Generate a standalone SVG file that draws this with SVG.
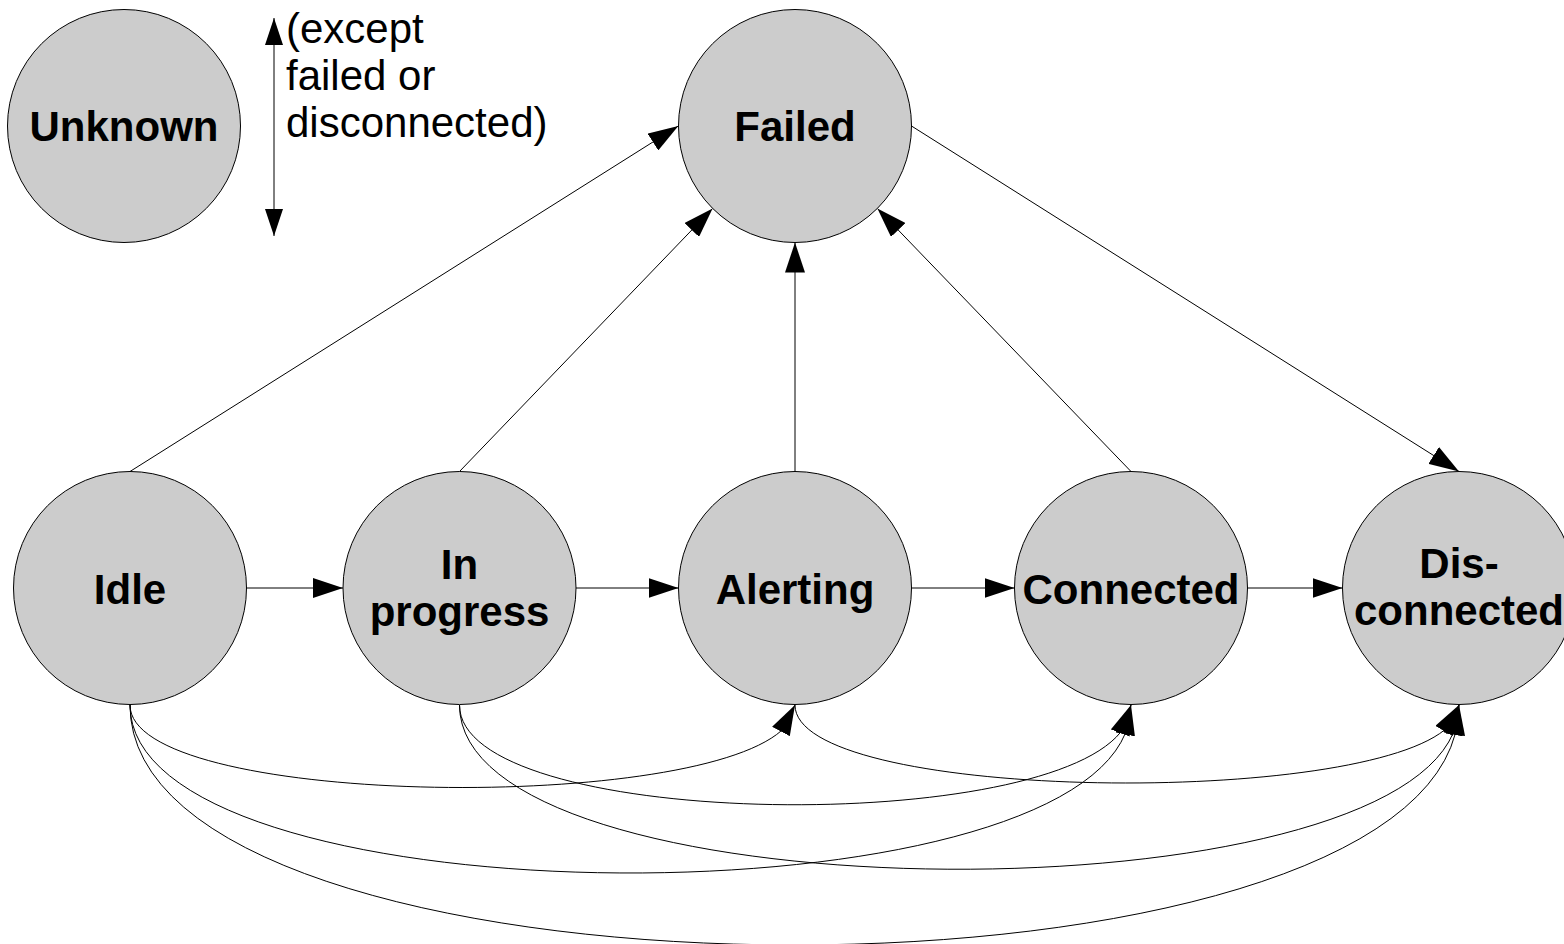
<svg xmlns="http://www.w3.org/2000/svg" width="1564" height="944" viewBox="0 0 1564 944">
  <style>
    .state { fill: #cccccc; stroke: #000000; stroke-width: 1; }
    .label { font-family: "Liberation Sans", Arial, sans-serif; font-weight: bold; font-size: 42px; fill: #000000; text-anchor: middle; }
    .note { font-family: "Liberation Sans", Arial, sans-serif; font-size: 42px; fill: #000000; }
    .edge { fill: none; stroke: #000000; stroke-width: 1; marker-end: url(#arrow); }
  </style>
  <defs>
    <marker id="arrow" markerUnits="userSpaceOnUse" viewBox="0 0 30 20" refX="30" refY="10" markerWidth="30" markerHeight="20" orient="auto">
      <path d="M0,0 L30,10 L0,20 Z" fill="#000000"/>
    </marker>
    <marker id="arrowSmall" markerUnits="userSpaceOnUse" viewBox="0 0 27 18" refX="27" refY="9" markerWidth="27" markerHeight="18" orient="auto-start-reverse">
      <path d="M0,0 L27,9 L0,18 Z" fill="#000000"/>
    </marker>
  </defs>

  <rect width="1564" height="944" fill="#ffffff"/>

  <!-- connectors -->
  <g id="connectors">
    <!-- straight transitions into Failed -->
    <path class="edge" d="M130,471.5 L678.3,126"/>
    <path class="edge" d="M459.5,471.5 L712.6,208.4"/>
    <path class="edge" d="M795,471.5 L795,242.5"/>
    <path class="edge" d="M1131,471.5 L877.4,208.4"/>
    <path class="edge" d="M911.5,126 L1459,471.5"/>
    <!-- main sequence -->
    <path class="edge" d="M246.5,588 L343,588"/>
    <path class="edge" d="M576,588 L678.5,588"/>
    <path class="edge" d="M911.5,588 L1014.5,588"/>
    <path class="edge" d="M1247.5,588 L1342.5,588"/>
    <!-- skip-ahead transitions underneath -->
    <path class="edge" d="M130,705 C130,805.65 686.76,814.21 781.4,730.67 L795,705"/>
    <path class="edge" d="M130,705 C130,919.14 1044.85,928.57 1125.36,733.27 L1131,705"/>
    <path class="edge" d="M130,705 C130,1015.08 1377.88,1024.69 1455.25,733.84 L1459,705"/>
    <path class="edge" d="M459.5,705 C459.5,828.16 1035.37,837.27 1120.52,732.34 L1131,705"/>
    <path class="edge" d="M459.5,705 C459.5,914.15 1371.11,923.56 1453.11,733.23 L1459,705"/>
    <path class="edge" d="M795,705 C795,799.85 1347.28,808.19 1444.48,730.04 L1459,705"/>
    <!-- two-way arrow beside Unknown -->
    <path d="M274,18 L274,236" fill="none" stroke="#000000" stroke-width="1" marker-start="url(#arrowSmall)" marker-end="url(#arrowSmall)"/>
  </g>

  <text class="note" x="286" y="43">(except</text>
  <text class="note" x="286" y="90">failed or</text>
  <text class="note" x="286" y="137">disconnected)</text>

  <g id="unknown">
    <circle class="state" cx="124" cy="126" r="116.5"/>
    <text class="label" x="124" y="141">Unknown</text>
  </g>
  <g id="failed">
    <circle class="state" cx="795" cy="126" r="116.5"/>
    <text class="label" x="795" y="141">Failed</text>
  </g>
  <g id="idle">
    <circle class="state" cx="130" cy="588" r="116.5"/>
    <text class="label" x="130" y="604">Idle</text>
  </g>
  <g id="in-progress">
    <circle class="state" cx="459.5" cy="588" r="116.5"/>
    <text class="label" x="459.5" y="579">In</text>
    <text class="label" x="459.5" y="626">progress</text>
  </g>
  <g id="alerting">
    <circle class="state" cx="795" cy="588" r="116.5"/>
    <text class="label" x="795" y="604">Alerting</text>
  </g>
  <g id="connected">
    <circle class="state" cx="1131" cy="588" r="116.5"/>
    <text class="label" x="1131" y="604">Connected</text>
  </g>
  <g id="disconnected">
    <circle class="state" cx="1459" cy="588" r="116.5"/>
    <text class="label" x="1459" y="578">Dis-</text>
    <text class="label" x="1459" y="625">connected</text>
  </g>
</svg>
